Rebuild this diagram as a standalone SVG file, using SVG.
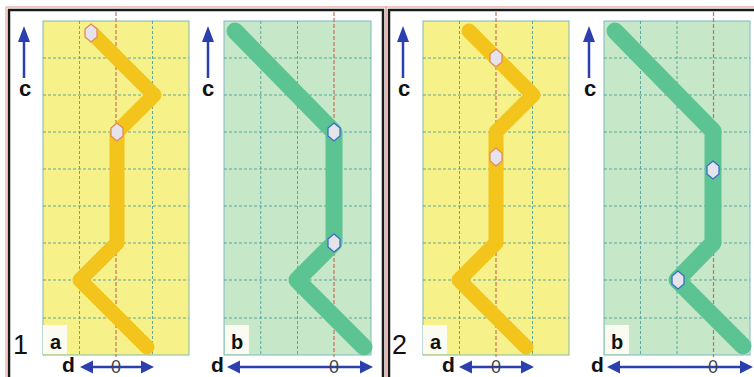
<svg xmlns="http://www.w3.org/2000/svg" width="754" height="377" viewBox="0 0 754 377">
<defs>
<style>
.frame{fill:none;stroke:#1a1a1a;stroke-width:2.5}
.frameo{fill:none;stroke:#e9a79a;stroke-width:1.2}
.ybg{fill:#f7f18a;stroke:#7fb8b0;stroke-width:1}
.gbg{fill:#c6e7c8;stroke:#7fb8c0;stroke-width:1}
.grid{stroke:#4e9f9a;stroke-width:0.9;stroke-dasharray:3 2;fill:none}
.zero{stroke:#c8705a;stroke-width:1.2;stroke-dasharray:4 2;fill:none}
.ypath{fill:none;stroke:#f2c41c;stroke-width:15;stroke-linejoin:round;stroke-linecap:round}
.gpath{fill:none;stroke:#5cc393;stroke-width:17;stroke-linejoin:round;stroke-linecap:round}
.dy{fill:#e4e4ea;stroke:#e08a66;stroke-width:1.3}
.dg{fill:#e4e4ea;stroke:#3a6cc8;stroke-width:1.3}
.axis{stroke:#2b3fae;stroke-width:2.5;fill:none}
.head{fill:#2b3fae}
.lbl{font-family:"Liberation Sans",Arial,sans-serif;font-weight:bold;fill:#111}
.c{font-size:22px;stroke:#fff;stroke-width:3;paint-order:stroke;text-anchor:middle}
.ab{font-size:20px}
.num{font-family:"Liberation Sans",Arial,sans-serif;font-size:27px;fill:#111}
.d{font-size:21px}
.z{font-family:"Liberation Sans",Arial,sans-serif;font-size:18px;fill:#444;text-anchor:middle}
.box{fill:#fbfbf2}
</style>
<path id="hex" d="M0,-9 L6,-4 L6,4 L0,9 L-6,4 L-6,-4 Z"/>
<path id="up" d="M0,-52 L6,-36 L-6,-36 Z"/>
<path id="lh" d="M0,0 L13,-6.5 L13,6.5 Z"/>
<path id="rh" d="M0,0 L-13,-6.5 L-13,6.5 Z"/>
</defs>
<rect width="754" height="377" fill="#fff"/>

<g id="frames">
<rect class="frameo" x="6" y="7" width="380" height="390"/>
<rect class="frame" x="9" y="10" width="374" height="390"/>
<rect class="frameo" x="386" y="7" width="380" height="390"/>
<rect class="frame" x="389" y="10" width="380" height="390"/>
</g>

<!-- Panel 1a -->
<g id="panel1a">
<rect class="ybg" x="43" y="21" width="146" height="334"/>
<path class="grid" d="M79.5,21V355M152.5,21V355M43,58H189M43,95H189M43,132H189M43,169H189M43,206H189M43,243H189M43,280H189M43,318H189"/>
<path class="zero" d="M116,12V357"/>
<rect class="box" x="43" y="325" width="24" height="29"/>
<text class="lbl ab" x="50" y="349">a</text>
</g>
<!-- Panel 1b -->
<g id="panel1b">
<rect class="gbg" x="224" y="21" width="147" height="334"/>
<path class="grid" d="M260.75,21V355M297.5,21V355M224,58H371M224,95H371M224,132H371M224,169H371M224,206H371M224,243H371M224,280H371M224,318H371"/>
<path class="zero" d="M334,12V357"/>
<rect class="box" x="225" y="325" width="24" height="29"/>
<text class="lbl ab" x="231" y="349">b</text>
</g>
<!-- Panel 2a -->
<g id="panel2a">
<rect class="ybg" x="423" y="21" width="146" height="334"/>
<path class="grid" d="M459.5,21V355M532.5,21V355M423,58H569M423,95H569M423,132H569M423,169H569M423,206H569M423,243H569M423,280H569M423,318H569"/>
<path class="zero" d="M496,12V357"/>
<rect class="box" x="423" y="325" width="24" height="29"/>
<text class="lbl ab" x="430" y="349">a</text>
</g>
<!-- Panel 2b -->
<g id="panel2b">
<rect class="gbg" x="604" y="21" width="146" height="334"/>
<path class="grid" d="M640.5,21V355M677,21V355M604,58H750M604,95H750M604,132H750M604,169H750M604,206H750M604,243H750M604,280H750M604,318H750"/>
<path class="zero" d="M713.5,12V357"/>
<rect class="box" x="605" y="325" width="24" height="29"/>
<text class="lbl ab" x="611" y="349">b</text>
</g>

<g id="connectors">
<path class="ypath" d="M92,33 L154,95 L117,132 V243 L80,280 L147,347"/>
<path class="gpath" d="M235,31 L334,132 V243 L297,280 L364,347"/>
<path class="ypath" d="M469,31 L533,95 L496,132 V243 L459,280 L526,347"/>
<path class="gpath" d="M615,31 L713,131 V243 L677,280 L743,346"/>
</g>

<g id="markers">
<use href="#hex" class="dy" x="91" y="33"/>
<use href="#hex" class="dy" x="117" y="132"/>
<use href="#hex" class="dg" x="334" y="132"/>
<use href="#hex" class="dg" x="334" y="243"/>
<use href="#hex" class="dy" x="496" y="58"/>
<use href="#hex" class="dy" x="496" y="157"/>
<use href="#hex" class="dg" x="713" y="170"/>
<use href="#hex" class="dg" x="678" y="280"/>
</g>

<g id="axes">
<line class="axis" x1="24" y1="78" x2="24" y2="40"/>
<use href="#up" class="head" x="24" y="78"/>
<text class="lbl c" x="25" y="96">c</text>
<line class="axis" x1="208" y1="78" x2="208" y2="40"/>
<use href="#up" class="head" x="208" y="78"/>
<text class="lbl c" x="208" y="96">c</text>
<line class="axis" x1="403" y1="78" x2="403" y2="40"/>
<use href="#up" class="head" x="403" y="78"/>
<text class="lbl c" x="404" y="96">c</text>
<line class="axis" x1="589" y1="78" x2="589" y2="40"/>
<use href="#up" class="head" x="589" y="78"/>
<text class="lbl c" x="590" y="96">c</text>

<text class="num" x="13" y="354">1</text>
<text class="num" x="392" y="354">2</text>

<text class="lbl d" x="62" y="372">d</text>
<line class="axis" x1="90" y1="367" x2="146" y2="367"/>
<use href="#lh" class="head" x="80" y="367"/>
<use href="#rh" class="head" x="154" y="367"/>
<text class="z" x="116" y="373">0</text>

<text class="lbl d" x="211" y="372">d</text>
<line class="axis" x1="235" y1="367" x2="365" y2="367"/>
<use href="#lh" class="head" x="227" y="367"/>
<use href="#rh" class="head" x="373" y="367"/>
<text class="z" x="334" y="373">0</text>

<text class="lbl d" x="442" y="372">d</text>
<line class="axis" x1="468" y1="367" x2="526" y2="367"/>
<use href="#lh" class="head" x="459" y="367"/>
<use href="#rh" class="head" x="534" y="367"/>
<text class="z" x="496" y="373">0</text>

<text class="lbl d" x="591" y="372">d</text>
<line class="axis" x1="615" y1="367" x2="745" y2="367"/>
<use href="#lh" class="head" x="607" y="367"/>
<use href="#rh" class="head" x="753" y="367"/>
<text class="z" x="713" y="373">0</text>
</g>
</svg>
